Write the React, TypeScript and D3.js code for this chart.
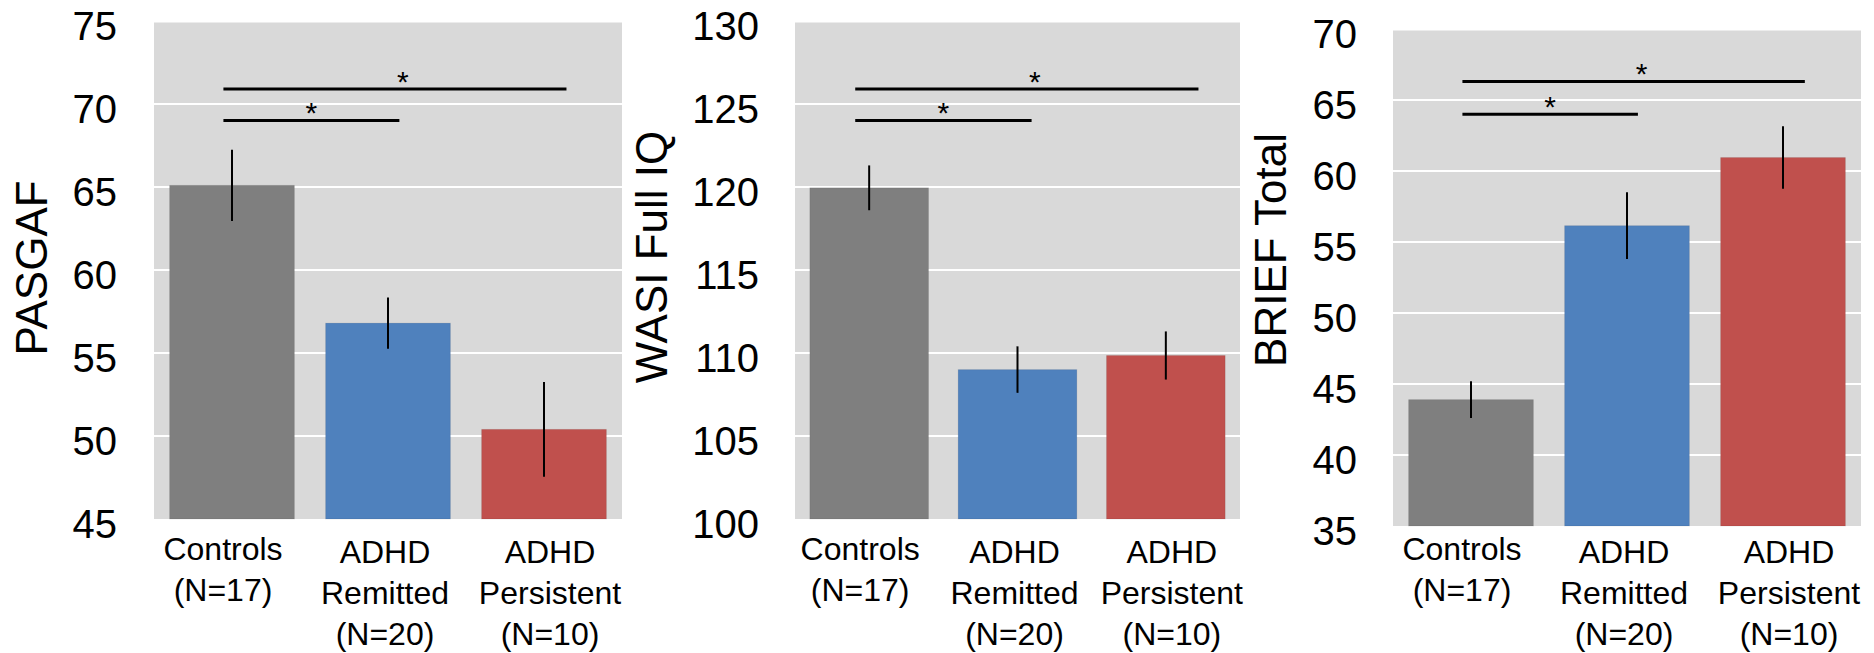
import React from 'react';
import * as d3 from 'd3';

// group labels, one entry per text line
const groupLines = [
  ['Controls', '(N=17)'],
  ['ADHD', 'Remitted', '(N=20)'],
  ['ADHD', 'Persistent', '(N=10)'],
];
const groupColors = ['#7f7f7f', '#4f81bd', '#c0504d'];

const pasgafMeans = [65.1, 56.8, 50.4];
const pasgafErr = [2.15, 1.55, 2.85];
const pasgafTicks = [45, 50, 55, 60, 65, 70, 75];

const wasiMeans = [119.95, 109.0, 109.85];
const wasiErr = [1.35, 1.4, 1.45];
const wasiTicks = [100, 105, 110, 115, 120, 125, 130];

const briefMeans = [43.9, 56.15, 60.95];
const briefErr = [1.3, 2.35, 2.2];
const briefTicks = [35, 40, 45, 50, 55, 60, 65, 70];

// significance comparisons: [from group, to group, level]
const pasgafSig = [[0, 2, 70.9], [0, 1, 69.0]];
const wasiSig = [[0, 2, 125.9], [0, 1, 124.0]];
const briefSig = [[0, 2, 66.3], [0, 1, 64.0]];

const panels = [
  {
    title: 'PASGAF', means: pasgafMeans, err: pasgafErr, ticks: pasgafTicks, sig: pasgafSig,
    left: 154, right: 622, bottom: 519, top: 21, tickX: 117, titleX: 47, titleY: 268,
    sigStart: -0.055, sigEnd: { 1: 0.073, 2: 0.144 },
  },
  {
    title: 'WASI Full IQ', means: wasiMeans, err: wasiErr, ticks: wasiTicks, sig: wasiSig,
    left: 795, right: 1240, bottom: 519, top: 21, tickX: 759, titleX: 667, titleY: 257,
    sigStart: -0.094, sigEnd: { 1: 0.095, 2: 0.22 },
  },
  {
    title: 'BRIEF Total', means: briefMeans, err: briefErr, ticks: briefTicks, sig: briefSig,
    left: 1393, right: 1861, bottom: 526, top: 29, tickX: 1357, titleX: 1286, titleY: 250,
    sigStart: -0.055, sigEnd: { 1: 0.07, 2: 0.14 },
  },
];

const labelShift = [-9, -3, 6];
const font = '"Liberation Sans", Arial, sans-serif';

function Panel({ p }: { p: any }) {
  const groups = groupLines.map((_, i) => String(i));
  const x = d3.scaleBand().domain(groups).range([p.left, p.right]).paddingInner(0.2).paddingOuter(0.1);
  const y = d3.scaleLinear()
    .domain([p.ticks[0], p.ticks[p.ticks.length - 1]])
    .range([p.bottom, p.top]);
  const step = x.step();
  const cx = (i: number) => (x(String(i)) as number) + x.bandwidth() / 2;
  const yTop = y(p.ticks[p.ticks.length - 1]) + 1.5;

  return (
    <g>
      <rect x={p.left} y={yTop} width={p.right - p.left} height={p.bottom - yTop} fill="#d9d9d9" />
      {p.ticks.slice(1, -1).map((t: number) => (
        <line key={t} x1={p.left} x2={p.right} y1={y(t)} y2={y(t)} stroke="#fff" strokeWidth={2} />
      ))}
      {p.ticks.map((t: number) => (
        <text key={'t' + t} x={p.tickX} y={y(t) + 18.5} textAnchor="end" fontSize={40} fontFamily={font} fill="#000">{t}</text>
      ))}
      <text transform={`translate(${p.titleX},${p.titleY}) rotate(-90)`} textAnchor="middle"
        fontSize={44} fontFamily={font} fill="#000">{p.title}</text>
      {p.means.map((m: number, i: number) => (
        <rect key={'b' + i} x={x(String(i))} y={y(m)} width={x.bandwidth()} height={p.bottom - y(m)}
          fill={groupColors[i]} stroke="rgba(0,0,0,0.08)" strokeWidth={1} />
      ))}
      {p.means.map((m: number, i: number) => (
        <line key={'e' + i} x1={cx(i)} x2={cx(i)} y1={y(m + p.err[i])} y2={y(m - p.err[i])} stroke="#000" strokeWidth={2} />
      ))}
      {p.sig.map((s: number[], k: number) => {
        const x1 = cx(s[0]) + p.sigStart * step;
        const x2 = cx(s[1]) + p.sigEnd[s[1]] * step;
        const starX = (x1 + x2) / 2 + (s[1] === 2 ? 8 : 0);
        return (
          <g key={'s' + k}>
            <line x1={x1} x2={x2} y1={y(s[2])} y2={y(s[2])} stroke="#000" strokeWidth={3} />
            <text x={starX} y={y(s[2]) + 2.5} textAnchor="middle" fontSize={30} fontFamily={font} fill="#000">*</text>
          </g>
        );
      })}
      {groupLines.map((lines, i) => (
        <text key={'c' + i} textAnchor="middle" fontSize={32} fontFamily={font} fill="#000">
          {lines.map((l, j) => (
            <tspan key={j} x={cx(i) + labelShift[i]} y={563 - (3 - lines.length) * 3 + j * 41}>{l}</tspan>
          ))}
        </text>
      ))}
    </g>
  );
}

export default function App() {
  return (
    <svg width={1874} height={653} style={{ position: 'absolute', left: 0, top: 0, background: '#fff' }}>
      {panels.map((p, i) => <Panel key={i} p={p} />)}
    </svg>
  );
}
